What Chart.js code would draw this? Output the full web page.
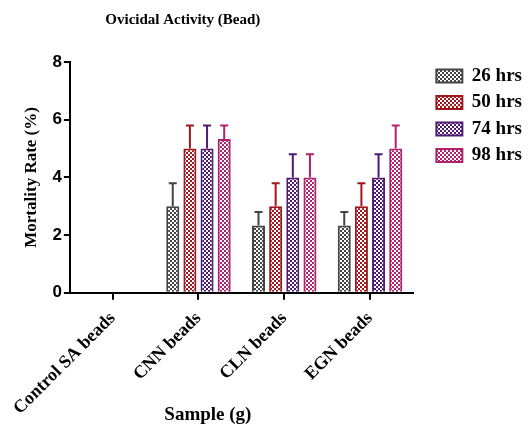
<!DOCTYPE html>
<html>
<head>
<meta charset="utf-8">
<script src="https://cdn.jsdelivr.net/npm/chart.js@4.4.1/dist/chart.umd.min.js"></script>
<style>
  html, body { margin: 0; padding: 0; background: #fff; }
  #wrap { width: 530px; height: 427px; position: relative; }
</style>
</head>
<body>
<div id="wrap"><canvas id="chart"></canvas></div>
<script>
// dati
const samples = ['Control SA beads', 'CNN beads', 'CLN beads', 'EGN beads'];
const seriesNames = ['26 hrs', '50 hrs', '74 hrs', '98 hrs'];
const h26 = [0, 3, 2.33, 2.33];
const h50 = [0, 5, 3, 3];
const h74 = [0, 5, 4, 4];
const h98 = [0, 5.33, 4, 5];
const sd26 = [0, 0.8, 0.47, 0.47];
const sd50 = [0, 0.8, 0.8, 0.8];
const sd74 = [0, 0.8, 0.8, 0.8];
const sd98 = [0, 0.47, 0.8, 0.8];
const colors = ['#444444', '#a3161c', '#4e1a72', '#b0226e'];

const serif = "'Liberation Serif', 'Times New Roman', serif";

// pattern a scacchi
function makePattern(color) {
    const c = document.createElement('canvas');
    c.width = 4; c.height = 4;
    const g = c.getContext('2d');
    g.fillStyle = color;
    g.fillRect(0, 0, 4, 4);
    g.fillStyle = '#ffffff';
    g.fillRect(0, 0, 2, 2);
    g.fillRect(2, 2, 2, 2);
    return g.createPattern(c, 'repeat');
}

const values = [h26, h50, h74, h98];
const errors = [sd26, sd50, sd74, sd98];

const datasets = seriesNames.map((name, i) => ({
    label: name,
    data: values[i],
    errors: errors[i],
    backgroundColor: makePattern(colors[i]),
    borderColor: colors[i],
    borderWidth: 2,
    borderSkipped: 'bottom'
}));

// barre di errore (solo verso l'alto)
const errorBars = {
    id: 'errorBars',
    afterDatasetsDraw(chart) {
        const ctx = chart.ctx;
        const y = chart.scales.y;
        chart.data.datasets.forEach((ds, di) => {
            const meta = chart.getDatasetMeta(di);
            meta.data.forEach((bar, i) => {
                const err = ds.errors[i];
                if (!err) return;
                const top = y.getPixelForValue(ds.data[i] + err);
                ctx.save();
                ctx.strokeStyle = ds.borderColor;
                ctx.lineWidth = 2;
                ctx.beginPath();
                ctx.moveTo(bar.x, bar.y);
                ctx.lineTo(bar.x, top);
                ctx.moveTo(bar.x - 4, top);
                ctx.lineTo(bar.x + 4, top);
                ctx.stroke();
                ctx.restore();
            });
        });
    }
};

// titolo e titolo asse x
const extraText = {
    id: 'extraText',
    afterDraw(chart) {
        const ctx = chart.ctx;
        const a = chart.chartArea;
        ctx.save();
        ctx.fillStyle = '#000';
        ctx.textAlign = 'center';
        ctx.textBaseline = 'middle';
        ctx.font = 'bold 15px ' + serif;
        ctx.fillText('Ovicidal Activity (Bead)', a.left + 113, 20);
        ctx.font = 'bold 19px ' + serif;
        ctx.fillText('Sample (g)', a.left + 138, 415);
        ctx.restore();
    }
};

new Chart(document.getElementById('chart'), {
    type: 'bar',
    data: { labels: samples, datasets: datasets },
    plugins: [errorBars, extraText],
    options: {
        responsive: true,
        maintainAspectRatio: false,
        animation: false,
        layout: { padding: { left: 17, top: 59, right: -2, bottom: 0 } },
        datasets: { bar: { categoryPercentage: 0.8, barPercentage: 0.76 } },
        plugins: {
            legend: {
                position: 'right',
                align: 'start',
                labels: {
                    boxWidth: 26,
                    boxHeight: 13,
                    padding: 7.5,
                    color: '#000',
                    font: { family: serif, size: 19, weight: 'bold' }
                }
            },
            tooltip: { enabled: false }
        },
        scales: {
            x: {
                offset: true,
                grid: { display: true, drawOnChartArea: false, drawTicks: true, tickLength: 7, color: '#000', lineWidth: 2, offset: false },
                border: { display: true, color: '#000', width: 2 },
                ticks: {
                    color: '#000',
                    font: { family: serif, size: 18, weight: 'bold' },
                    maxRotation: 45,
                    minRotation: 45,
                    padding: 8
                }
            },
            y: {
                min: 0,
                max: 8,
                grid: { display: true, drawOnChartArea: false, drawTicks: true, tickLength: 6, color: '#000', lineWidth: 2 },
                border: { display: true, color: '#000', width: 2 },
                ticks: {
                    stepSize: 2,
                    color: '#000',
                    padding: 2,
                    font: { family: "'Liberation Sans', Arial, sans-serif", size: 17, weight: 'bold' }
                },
                title: {
                    display: true,
                    text: 'Mortality Rate (%)',
                    color: '#000',
                    padding: { top: 4, bottom: 9 },
                    font: { family: serif, size: 17, weight: 'bold' }
                },
                afterFit(s) { s.paddingTop = 62; }
            },
            // spazio vuoto tra grafico e legenda
            gap: {
                type: 'linear',
                position: 'right',
                display: false,
                afterFit(s) { s.width = 16; }
            }
        }
    }
});
</script>
</body>
</html>
